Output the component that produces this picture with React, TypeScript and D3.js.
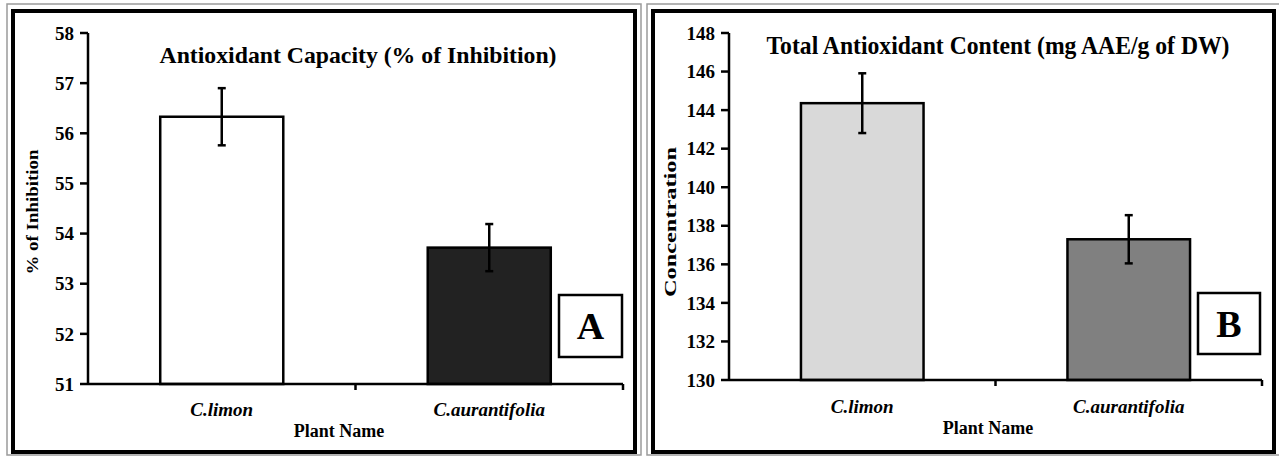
import React from 'react';
import * as d3 from 'd3';

// plant names on the x axis
const categories = ['C.limon', 'C.aurantifolia'];

// panel A: antioxidant capacity (% of inhibition)
const inhibitionValues = [56.33, 53.72];
const inhibitionErrors = [0.57, 0.47];
const inhibitionTicks = [51, 52, 53, 54, 55, 56, 57, 58];
const inhibitionFills = ['#ffffff', '#222222'];

// panel B: total antioxidant content
const contentValues = [144.36, 137.3];
const contentErrors = [1.55, 1.25];
const contentTicks = [130, 132, 134, 136, 138, 140, 142, 144, 146, 148];
const contentFills = ['#d9d9d9', '#808080'];

const FONT = "'Liberation Serif', 'DejaVu Serif', serif";

type PanelProps = {
  frame: [number, number, number, number];
  axisX: number;
  axisRight: number;
  yTop: number;
  yBottom: number;
  domain: [number, number];
  ticks: number[];
  values: number[];
  errors: number[];
  fills: string[];
  title: string;
  titleX: number;
  titleY: number;
  titleLen: number;
  titleSize: number;
  yLabel: string;
  yLabelX: number;
  yLabelY: number;
  yLabelLen: number;
  catY: number;
  xLabelX: number;
  xLabelY: number;
  box: [number, number, number, number];
  letter: string;
};

function Panel(p: PanelProps) {
  const y = d3.scaleLinear().domain(p.domain).range([p.yBottom, p.yTop]);
  const x = d3
    .scaleBand<string>()
    .domain(categories)
    .range([p.axisX, p.axisRight])
    .paddingInner(0.54)
    .paddingOuter(0.27);
  const step = x.step();
  const [fx, fy, fw, fh] = p.frame;
  const [bx, by, bw, bh] = p.box;

  return (
    <g style={{ fontFamily: FONT, fontWeight: 'bold' }} fill="#000">
      {/* outer shadow line + thick frame */}
      <rect x={fx - 6} y={fy - 7} width={fw + 12} height={fh + 10} fill="none" stroke="#9a9a9a" strokeWidth={1.5} />
      <rect x={fx} y={fy} width={fw} height={fh} fill="#fff" stroke="#000" strokeWidth={4} />

      <text x={p.titleX} y={p.titleY} fontSize={p.titleSize} textAnchor="middle"
        textLength={p.titleLen} lengthAdjust="spacingAndGlyphs">{p.title}</text>

      {/* bars */}
      {categories.map((c, i) => (
        <rect key={c} x={x(c)} y={y(p.values[i])} width={x.bandwidth()}
          height={y(p.domain[0]) - y(p.values[i])}
          fill={p.fills[i]} stroke="#000" strokeWidth={2.5} />
      ))}

      {/* error bars */}
      {categories.map((c, i) => {
        const cx = (x(c) as number) + x.bandwidth() / 2;
        const hi = y(p.values[i] + p.errors[i]);
        const lo = y(p.values[i] - p.errors[i]);
        return (
          <g key={c} stroke="#000" strokeWidth={2.5}>
            <line x1={cx} x2={cx} y1={hi} y2={lo} />
            <line x1={cx - 4} x2={cx + 4} y1={hi} y2={hi} />
            <line x1={cx - 4} x2={cx + 4} y1={lo} y2={lo} />
          </g>
        );
      })}

      {/* y axis */}
      <line x1={p.axisX} x2={p.axisX} y1={p.yTop} y2={p.yBottom} stroke="#000" strokeWidth={2.5} />
      {p.ticks.map((t) => (
        <g key={t}>
          <line x1={p.axisX - 8} x2={p.axisX} y1={y(t)} y2={y(t)} stroke="#000" strokeWidth={2.5} />
          <text x={p.axisX - 14} y={y(t)} dy="0.35em" fontSize={19} textAnchor="end">{t}</text>
        </g>
      ))}

      {/* x axis */}
      <line x1={p.axisX} x2={p.axisRight} y1={p.yBottom} y2={p.yBottom} stroke="#000" strokeWidth={2.5} />
      {[1, 2].map((k) => (
        <line key={k} x1={p.axisX + k * step} x2={p.axisX + k * step}
          y1={p.yBottom} y2={p.yBottom + 6} stroke="#000" strokeWidth={2.5} />
      ))}
      {categories.map((c) => (
        <text key={c} x={(x(c) as number) + x.bandwidth() / 2} y={p.catY}
          fontSize={19} fontStyle="italic" textAnchor="middle">{c}</text>
      ))}
      <text x={p.xLabelX} y={p.xLabelY} fontSize={18} textAnchor="middle">Plant Name</text>

      <text transform={`translate(${p.yLabelX},${p.yLabelY}) rotate(-90)`} fontSize={17}
        textAnchor="middle" textLength={p.yLabelLen} lengthAdjust="spacingAndGlyphs">{p.yLabel}</text>

      {/* panel letter */}
      <rect x={bx} y={by} width={bw} height={bh} fill="#fff" stroke="#000" strokeWidth={2.5} />
      <text x={bx + bw / 2} y={by + bh / 2} dy="0.35em" fontSize={38} textAnchor="middle">{p.letter}</text>
    </g>
  );
}

export default function App() {
  return (
    <svg width={1279} height={457} style={{ position: 'absolute', left: 0, top: 0, background: '#fff' }}>
      <Panel
        frame={[13, 11, 622, 441]}
        axisX={88} axisRight={623} yTop={33} yBottom={384}
        domain={[51, 58]} ticks={inhibitionTicks}
        values={inhibitionValues} errors={inhibitionErrors} fills={inhibitionFills}
        title="Antioxidant Capacity (% of Inhibition)" titleX={358} titleY={63} titleLen={397} titleSize={24}
        yLabel="% of Inhibition" yLabelX={38} yLabelY={212} yLabelLen={125}
        catY={416} xLabelX={339} xLabelY={437}
        box={[559, 295, 63, 62]} letter="A"
      />
      <Panel
        frame={[653, 11, 621, 441]}
        axisX={729} axisRight={1262} yTop={33} yBottom={380}
        domain={[130, 148]} ticks={contentTicks}
        values={contentValues} errors={contentErrors} fills={contentFills}
        title="Total Antioxidant Content (mg AAE/g of DW)" titleX={998} titleY={54} titleLen={463} titleSize={25}
        yLabel="Concentration" yLabelX={676} yLabelY={222} yLabelLen={150}
        catY={413} xLabelX={988} xLabelY={434}
        box={[1198, 293, 62, 61]} letter="B"
      />
    </svg>
  );
}
